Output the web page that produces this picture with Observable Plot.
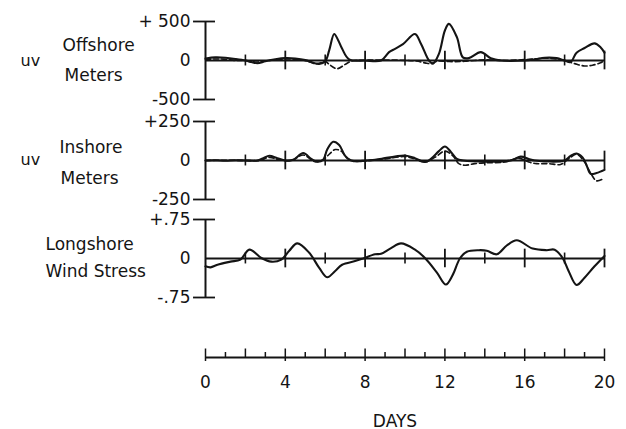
<!DOCTYPE html>
<html><head><meta charset="utf-8">
<script src="https://cdn.jsdelivr.net/npm/d3@7"></script>
<script src="https://cdn.jsdelivr.net/npm/@observablehq/plot@0.6"></script>
<style>
html,body{margin:0;padding:0;background:#fff;}
#chart{width:626px;height:429px;background:#fff;}
#chart svg{display:block;overflow:visible;}
</style></head><body><div id="chart"></div>
<script>
// ---- data ----
const offSolidDays = [0,0.5,1,1.5,2,2.3,2.6,3,3.5,4,4.5,5,5.4,5.7,6.0,6.2,6.45,6.65,6.85,7.2,8,8.8,9.2,9.5,9.9,10.5,10.8,11.2,11.4,11.7,12.0,12.2,12.6,12.9,13.2,13.8,14.3,14.8,16,16.5,17,17.6,18,18.3,18.6,19.0,19.5,19.8,20];
const offSolid     = [25,40,35,20,0,-20,-35,-10,15,30,25,5,-30,-45,-10,130,340,260,150,15,0,0,107,150,210,340,215,0,-40,85,385,470,300,40,30,107,30,0,0,15,35,30,0,-20,100,160,220,170,100];
const offDashDays  = [0,0.5,1,1.5,2,2.5,3,3.5,4,4.5,5,5.5,5.8,6.0,6.2,6.6,7.0,7.3,7.6,10.5,11,11.3,11.6,12,12.5,13,13.5,14,15,16.5,17,17.6,18,18.5,19,19.4,19.8,20];
const offDash      = [10,20,15,0,0,-20,-5,10,20,15,0,-40,-30,-10,-50,-105,-50,-10,0,-5,-30,-40,-10,-10,-15,-10,0,10,0,20,30,20,0,-40,-70,-60,-30,0];

const inSolidDays = [0,0.5,1,1.5,2,2.6,2.9,3.2,3.6,4,4.4,4.9,5.3,5.6,5.9,6.1,6.4,6.7,7.0,7.3,7.7,8,8.5,9,9.5,10,10.5,11,11.3,11.7,12,12.3,12.6,12.9,15.3,15.8,16.2,16.5,18,18.3,18.6,18.9,19.1,19.3,19.6,20];
const inSolid     = [0,2,-2,2,0,0,15,30,15,0,5,48,10,-8,5,70,120,100,30,0,-5,0,5,15,25,32,15,-10,10,60,90,55,10,0,0,25,10,0,0,30,45,20,-30,-85,-80,-60];
const inDashDays  = [0,1,2,2.7,3.2,3.7,4.3,4.9,5.5,5.9,6.2,6.5,6.8,7.1,7.5,8,9,10,10.5,11,11.5,12,12.4,12.7,13,13.5,14,15,15.7,16.2,16.6,17.2,17.8,18.2,18.6,19,19.3,19.6,19.9];
const inDash      = [0,2,0,0,20,5,0,35,-8,5,40,70,60,15,-5,-3,10,25,10,-10,20,60,30,-20,-30,-20,-15,-10,15,-10,-20,-20,-25,10,40,-10,-80,-130,-120];

const windDays = [0,0.25,0.6,1.25,1.75,2.2,2.8,3.3,3.8,4.2,4.6,5.2,5.7,6.1,6.5,6.85,7.5,7.9,8.5,8.8,9.3,9.8,10.5,11,11.6,12.05,12.4,12.75,13.1,13.7,14.1,14.6,15.1,15.6,16.4,17.1,17.5,17.9,18.2,18.6,19.0,19.5,20];
const wind     = [-0.15,-0.17,-0.12,-0.06,-0.02,0.17,0.01,-0.06,-0.02,0.15,0.29,0.11,-0.18,-0.36,-0.24,-0.12,-0.05,0,0.08,0.09,0.2,0.29,0.17,0.01,-0.27,-0.5,-0.31,0,0.13,0.16,0.15,0.08,0.25,0.35,0.19,0.16,0.17,0.01,-0.24,-0.51,-0.37,-0.15,0.05];

const offTicks = [500, 0, -500];
const offTickLabels = ["+ 500", "0", "-500"];
const inTicks = [250, 0, -250];
const inTickLabels = ["+250", "0", "-250"];
const windTicks = [0.75, 0, -0.75];
const windTickLabels = ["+.75", "0", "-.75"];
const dayTicks = [0, 4, 8, 12, 16, 20];
const dayTickLabels = ["0", "4", "8", "12", "16", "20"];
const xTitle = "DAYS";
const offLabels = ["uv", "Offshore", "Meters"];
const inLabels = ["uv", "Inshore", "Meters"];
const windLabels = ["Longshore", "Wind Stress"];

// ---- layout ----
const W = 626, ML = 205, MR = 22;
const ink = "#141414";
const FONT = "DejaVu Sans";
const baseStyle = {fontFamily: FONT, fontSize: "17px", background: "transparent", overflow: "visible", color: ink};
const panelDays = d3.range(2, 21, 2);

function panel({height, mt, mb, lim, ticks, tickLabels, lines, labels}) {
  const major = panelDays.filter(d => d % 4 === 0);
  const minor = panelDays.filter(d => d % 4 !== 0);
  const marks = [
    Plot.ruleY([0], {x1: 0, x2: 20, stroke: ink, strokeWidth: 1.8}),
    Plot.ruleX([0], {y1: -lim, y2: lim, stroke: ink, strokeWidth: 2}),
    Plot.ruleY([-lim, lim], {x1: -0.6, x2: 0.5, stroke: ink, strokeWidth: 1.8}),
    Plot.ruleX(major, {y1: -lim * 0.24, y2: lim * 0.24, stroke: ink, strokeWidth: 1.8}),
    Plot.ruleX(minor, {y1: -lim * 0.14, y2: lim * 0.14, stroke: ink, strokeWidth: 1.6}),
    Plot.text(ticks, {x: 0, y: d => d, text: (d, i) => tickLabels[i], textAnchor: "end", dx: -15, fontSize: 17, fill: ink}),
    ...lines,
    ...labels.map(l => Plot.text([l.text], {frameAnchor: "left", text: d => d, textAnchor: "start", dx: l.x - ML, dy: l.dy, fontSize: l.size || 17, fill: ink, ariaLabel: "panel-label"}))
  ];
  return Plot.plot({
    width: W, height, marginLeft: ML, marginRight: MR, marginTop: mt, marginBottom: mb,
    x: {domain: [0, 20], axis: null},
    y: {domain: [-lim, lim], axis: null},
    style: baseStyle,
    marks
  });
}

const solid = (days, vals) => Plot.line(vals, {x: days, y: d => d, curve: "catmull-rom", stroke: ink, strokeWidth: 2.1});
const dashed = (days, vals) => Plot.line(vals, {x: days, y: d => d, curve: "catmull-rom", stroke: ink, strokeWidth: 1.6, strokeDasharray: "5,3"});

const p1 = panel({height: 110, mt: 21, mb: 11, lim: 500, ticks: offTicks, tickLabels: offTickLabels,
  lines: [dashed(offDashDays, offDash), solid(offSolidDays, offSolid)],
  labels: [{text: offLabels[0], x: 20, dy: 0, size: 16}, {text: offLabels[1], x: 62, dy: -15}, {text: offLabels[2], x: 64, dy: 15}]});
const p2 = panel({height: 99, mt: 11, mb: 10, lim: 250, ticks: inTicks, tickLabels: inTickLabels,
  lines: [dashed(inDashDays, inDash), solid(inSolidDays, inSolid)],
  labels: [{text: inLabels[0], x: 20, dy: -1, size: 16}, {text: inLabels[1], x: 59, dy: -13}, {text: inLabels[2], x: 60, dy: 18}]});
const p3 = panel({height: 100, mt: 10, mb: 12, lim: 0.75, ticks: windTicks, tickLabels: windTickLabels,
  lines: [solid(windDays, wind)],
  labels: [{text: windLabels[0], x: 45, dy: -14}, {text: windLabels[1], x: 45, dy: 13}]});

const p4 = Plot.plot({
  width: W, height: 120, marginLeft: ML, marginRight: MR, marginTop: 38, marginBottom: 62,
  x: {domain: [0, 20], axis: null},
  y: {domain: [-1, 1], axis: null},
  style: baseStyle,
  marks: [
    Plot.ruleY([0], {x1: 0, x2: 20, stroke: ink, strokeWidth: 1.8}),
    Plot.ruleX(d3.range(0, 21), {y1: 0, y2: d => d % 2 === 0 ? 0.85 : 0.5, stroke: ink, strokeWidth: 1.5}),
    Plot.ruleX(dayTicks, {y1: -0.4, y2: 0, stroke: ink, strokeWidth: 1.5}),
    Plot.text(dayTicks, {x: d => d, y: 0, dy: 25, text: (d, i) => dayTickLabels[i], fontSize: 17, fill: ink}),
    Plot.text([xTitle], {frameAnchor: "bottom", text: d => d, dx: -10, dy: 59, fontSize: 17, fill: ink, ariaLabel: "x-title"})
  ]
});

const root = document.getElementById("chart");
[p1, p2, p3, p4].forEach(p => root.appendChild(p));
d3.selectAll('g[aria-label="panel-label"] text').style("letter-spacing", "0.6px");
d3.selectAll('g[aria-label="x-title"] text').style("letter-spacing", "2px");
</script></body></html>
